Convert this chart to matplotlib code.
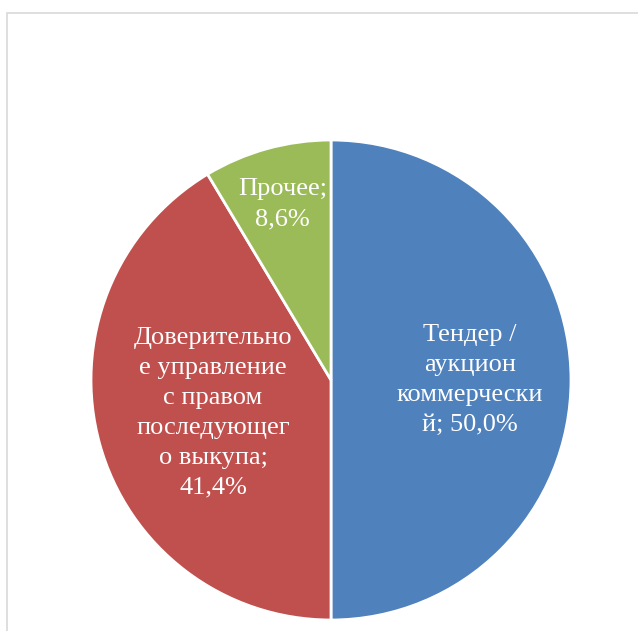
import numpy as np
import matplotlib.pyplot as plt
from matplotlib.patches import Rectangle

# Доли способов реализации (%)
categories = ["Тендер /\nаукцион\nкоммерчески\nй", "Доверительно\nе управление\nс правом\nпоследующег\nо выкупа", "Прочее"]
shares = [50.0, 41.4, 8.6]
colors = ["#4F81BD", "#C0504D", "#9BBB59"]
label_radius = [0.58, 0.51, 0.76]
value_on_new_line = [False, True, True]

W, H = 638, 631
fig = plt.figure(figsize=(W / 100, H / 100), dpi=100)

# рамка области диаграммы
fig.add_artist(Rectangle((7 / W, -0.05), 1.2, 1 - 13 / H + 0.05, transform=fig.transFigure,
                         fill=False, edgecolor="#D9D9D9", lw=1.2))

cx, cy, r = 331, 380, 240
ax = fig.add_axes([(cx - r) / W, (H - cy - r) / H, 2 * r / W, 2 * r / H])

wedges, _ = ax.pie(shares, colors=colors, startangle=90, counterclock=False, radius=1,
                   wedgeprops=dict(edgecolor="white", linewidth=2))
ax.set_xlim(-1, 1)
ax.set_ylim(-1, 1)
ax.axis("off")

for w, cat, val, lr, nl in zip(wedges, categories, shares, label_radius, value_on_new_line):
    ang = np.deg2rad((w.theta1 + w.theta2) / 2)
    sep = ";\n" if nl else "; "
    txt = f"{cat}{sep}{val:.1f}%".replace(".", ",")
    ax.text(lr * np.cos(ang), lr * np.sin(ang), txt, ha="center", va="center",
            color="white", fontsize=19, family="Liberation Serif", linespacing=1.47)

fig.savefig("out.png", dpi=100)
